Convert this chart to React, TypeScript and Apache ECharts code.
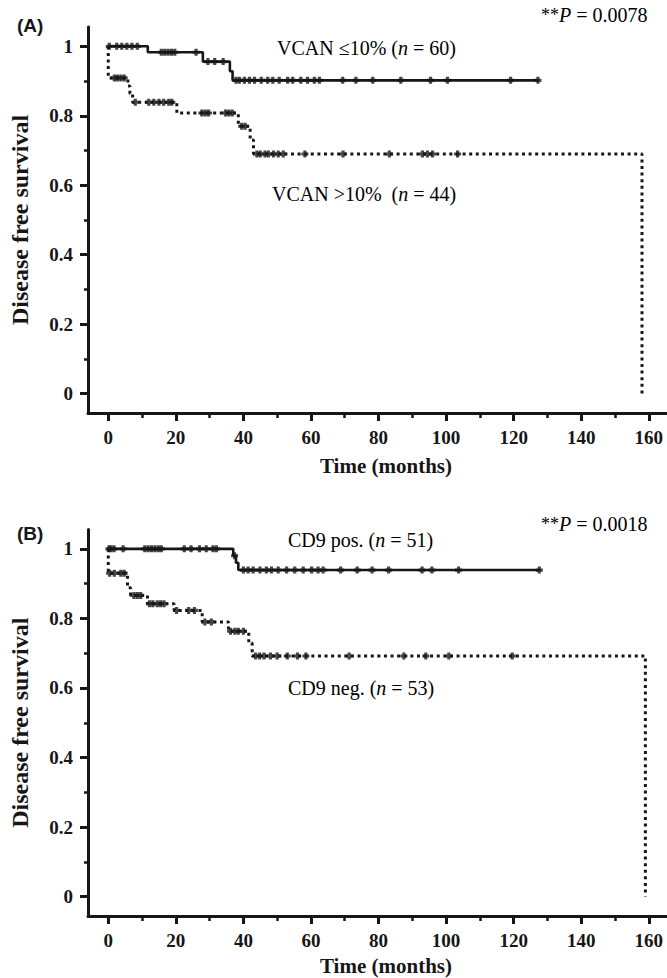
import React, { useEffect, useRef } from "react";
import * as echarts from "echarts";

// ---------- Data ----------
// Panel A: VCAN <=10% (solid)
const aLowVcanTimes = [0, 11.7, 28, 36, 36.8, 127.5];
const aLowVcanSurv = [1, 0.983, 0.956, 0.928, 0.902, 0.902];
const aLowVcanCensor = [0.3, 2.5, 4, 5.5, 7, 8.6, 15.7, 16.7, 17.7, 18.7, 19.7, 26, 29.5, 31.5, 34, 37.8, 38.8, 40.3, 41.8, 43.3, 45.3, 47.2, 48.7, 50.6, 53.1, 54.6, 57, 59, 61, 62.5, 69.4, 73.3, 78.3, 86.6, 95.4, 100.4, 119.1, 127.2];
// Panel A: VCAN >10% (dotted)
const aHighVcanTimes = [0, 0, 5.8, 6.4, 7.2, 20.3, 38.5, 42, 43, 158];
const aHighVcanSurv = [1, 0.909, 0.886, 0.864, 0.839, 0.808, 0.77, 0.73, 0.69, 0];
const aHighVcanCensor = [1.8, 2.7, 3.7, 4.7, 8, 12, 13.5, 15, 16.4, 17.9, 18.8, 27.7, 28.7, 29.7, 34.7, 35.7, 36.7, 39.5, 40.5, 44, 45, 46.4, 47.4, 48.9, 50.3, 51.8, 58.2, 69.5, 83.2, 93, 94.5, 96, 103.4];

// Panel B: CD9 pos (solid)
const bPosTimes = [0, 37, 37.8, 38.5, 128];
const bPosSurv = [1, 0.98, 0.96, 0.939, 0.939];
const bPosCensor = [0.2, 0.8, 1.7, 4.4, 10.8, 11.8, 12.8, 13.8, 14.8, 15.7, 22.5, 24.5, 27, 29, 31, 32, 37.4, 40, 41.4, 42.9, 44.9, 46.8, 48.3, 50.3, 52.8, 55.2, 57.7, 60.2, 62.1, 63.6, 68.8, 73.7, 78.1, 83, 92.9, 95.8, 103.7, 127.6];
// Panel B: CD9 neg (dotted)
const bNegTimes = [0, 0, 5.7, 6.6, 11.6, 19.5, 27.8, 35.6, 41.6, 42.6, 159];
const bNegSurv = [1, 0.93, 0.888, 0.866, 0.842, 0.823, 0.79, 0.763, 0.729, 0.692, 0];
const bNegCensor = [0.4, 1.8, 3.7, 4.7, 7.6, 8.6, 9.6, 12.2, 13.2, 14.5, 15.5, 16.5, 20.2, 23.8, 25.5, 28.6, 30.5, 36.2, 37.5, 38.5, 40, 43.6, 44.8, 46.1, 48, 50, 53, 56, 58.5, 71.3, 87.5, 94, 100.8, 119.6];

const xMajorTicks = [0, 20, 40, 60, 80, 100, 120, 140, 160];
const xMinorTicks = [10, 30, 50, 70, 90, 110, 130, 150];
const yMajorTicks = [0, 0.2, 0.4, 0.6, 0.8, 1];
const yMinorTicks = [0.1, 0.3, 0.5, 0.7, 0.9];

const xTitle = "Time (months)";
const yTitle = "Disease free survival";

// ---------- Helpers ----------
const INK = "#161616";
const SERIF = "'Liberation Serif', 'Times New Roman', serif";
const SANS = "'Liberation Sans', Arial, sans-serif";

function stepAt(times: number[], surv: number[], t: number) {
  let v = surv[0];
  for (let i = 0; i < times.length; i++) {
    if (times[i] <= t) v = surv[i];
  }
  return v;
}
const pairs = (times: number[], surv: number[]) => times.map((t, i) => [t, surv[i]]);
const censorPts = (times: number[], surv: number[], c: number[]) => c.map((t) => [t, stepAt(times, surv, t)]);

const BLOB = "path://M2.2,0H5.8V2.2H8V5.8H5.8V8H2.2V5.8H0V2.2H2.2Z";

export default function App() {
  const ref = useRef<HTMLDivElement>(null);
  useEffect(() => {
    if (!ref.current) return;
    const chart = echarts.init(ref.current, null, { renderer: "svg" });

    const grids = [
      { left: 87, right: 0, top: 27, height: 386 },
      { left: 87, right: 0, top: 529.5, height: 386.5 },
    ];

    const xAxes: any[] = [];
    const yAxes: any[] = [];
    [0, 1].forEach((g) => {
      xAxes.push({
        gridIndex: g,
        type: "value",
        min: -6,
        max: 165.4,
        position: "bottom",
        axisLine: { show: true, onZero: false, lineStyle: { color: INK, width: 3 } },
        axisTick: { show: true, customValues: xMajorTicks, length: 8, lineStyle: { color: INK, width: 3 } },
        axisLabel: {
          customValues: xMajorTicks,
          margin: 15,
          color: INK,
          fontFamily: SERIF,
          fontWeight: "bold",
          fontSize: 19,
        },
        splitLine: { show: false },
      });
      xAxes.push({
        gridIndex: g,
        type: "value",
        min: -6,
        max: 165.4,
        position: "bottom",
        axisLine: { show: false, onZero: false },
        axisTick: { show: true, customValues: xMinorTicks, length: 5, lineStyle: { color: INK, width: 2.5 } },
        axisLabel: { show: false },
        splitLine: { show: false },
      });
      yAxes.push({
        gridIndex: g,
        type: "value",
        min: -0.0556,
        max: 1.0556,
        position: "left",
        name: yTitle,
        nameLocation: "middle",
        nameRotate: 90,
        nameGap: 56,
        nameTextStyle: { color: INK, fontFamily: SERIF, fontWeight: "bold", fontSize: 24 },
        axisLine: { show: true, onZero: false, lineStyle: { color: INK, width: 3 } },
        axisTick: { show: true, customValues: yMajorTicks, length: 8, lineStyle: { color: INK, width: 3 } },
        axisLabel: {
          customValues: yMajorTicks,
          margin: 15,
          color: INK,
          fontFamily: SERIF,
          fontWeight: "bold",
          fontSize: 19,
          formatter: (v: number) => (v === 0 ? "0" : v === 1 ? "1" : v.toFixed(1)),
        },
        splitLine: { show: false },
      });
      yAxes.push({
        gridIndex: g,
        type: "value",
        min: -0.0556,
        max: 1.0556,
        position: "left",
        axisLine: { show: false, onZero: false },
        axisTick: { show: true, customValues: yMinorTicks, length: 4, lineStyle: { color: INK, width: 2.5 } },
        axisLabel: { show: false },
        splitLine: { show: false },
      });
    });

    const solid = { color: INK, width: 2.6, type: "solid" };
    const dotted = { color: INK, width: 3, type: [3, 3.6], cap: "butt" };

    const lineSeries = (xi: number, yi: number, data: number[][], ls: any) => ({
      type: "line",
      xAxisIndex: xi,
      yAxisIndex: yi,
      step: "end",
      data,
      showSymbol: false,
      symbol: "none",
      lineStyle: ls,
      z: 2,
    });
    const censorSeries = (xi: number, yi: number, data: number[][]) => ({
      type: "scatter",
      xAxisIndex: xi,
      yAxisIndex: yi,
      data,
      symbol: BLOB,
      symbolSize: 7,
      itemStyle: { color: INK },
      z: 3,
    });

    const rich = {
      r: { fontFamily: SERIF, fontSize: 20, color: INK },
      i: { fontFamily: SERIF, fontSize: 20, color: INK, fontStyle: "italic" },
      s: { fontFamily: SERIF, fontSize: 18, color: INK },
    };
    const txt = (x: number, y: number, text: string, extra: any = {}) => ({
      type: "text",
      x,
      y,
      style: { text, rich, align: "left", verticalAlign: "middle", ...extra },
    });

    chart.setOption({
      animation: false,
      grid: grids,
      xAxis: xAxes,
      yAxis: yAxes,
      series: [
        lineSeries(0, 0, pairs(aHighVcanTimes, aHighVcanSurv), dotted),
        lineSeries(0, 0, pairs(aLowVcanTimes, aLowVcanSurv), solid),
        censorSeries(0, 0, censorPts(aHighVcanTimes, aHighVcanSurv, aHighVcanCensor)),
        censorSeries(0, 0, censorPts(aLowVcanTimes, aLowVcanSurv, aLowVcanCensor)),
        lineSeries(2, 2, pairs(bNegTimes, bNegSurv), dotted),
        lineSeries(2, 2, pairs(bPosTimes, bPosSurv), solid),
        censorSeries(2, 2, censorPts(bNegTimes, bNegSurv, bNegCensor)),
        censorSeries(2, 2, censorPts(bPosTimes, bPosSurv, bPosCensor)),
      ],
      graphic: [
        txt(17, 25, "(A)", { fontFamily: SANS, fontWeight: "bold", fontSize: 19, fill: INK }),
        txt(17, 533, "(B)", { fontFamily: SANS, fontWeight: "bold", fontSize: 19, fill: INK }),
        txt(541, 15, "{s|**}{i|P}{r| = 0.0078}"),
        txt(541, 524, "{s|**}{i|P}{r| = 0.0018}"),
        txt(277, 48, "{r|VCAN ≤10% (}{i|n}{r| = 60)}"),
        txt(272, 194, "{r|VCAN >10%  (}{i|n}{r| = 44)}"),
        txt(288, 540, "{r|CD9 pos. (}{i|n}{r| = 51)}"),
        txt(288, 688, "{r|CD9 neg. (}{i|n}{r| = 53)}"),
        {
          type: "text",
          x: 386,
          y: 466,
          style: { text: xTitle, align: "center", verticalAlign: "middle", fontFamily: SERIF, fontWeight: "bold", fontSize: 21, fill: INK },
        },
        {
          type: "text",
          x: 386,
          y: 966,
          style: { text: xTitle, align: "center", verticalAlign: "middle", fontFamily: SERIF, fontWeight: "bold", fontSize: 21, fill: INK },
        },
      ],
    });
    return () => chart.dispose();
  }, []);
  return <div ref={ref} style={{ position: "fixed", left: 0, top: 0, width: 667, height: 978, background: "#fff" }} />;
}
